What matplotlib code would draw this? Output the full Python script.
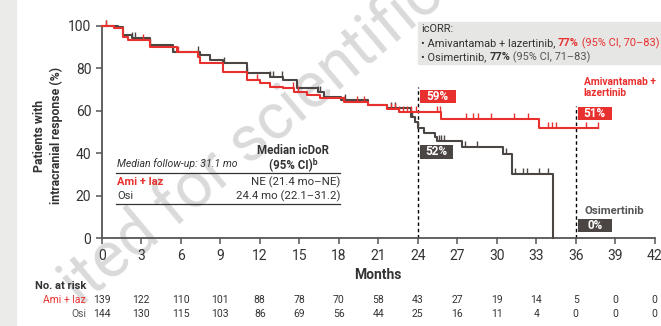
import numpy as np
import matplotlib
matplotlib.use("Agg")
import matplotlib.pyplot as plt
import matplotlib.transforms as mtransforms
from matplotlib.path import Path
from matplotlib.patches import Rectangle

plt.rcParams['font.family'] = ['Roboto', 'DejaVu Sans']

# Kaplan-Meier steps (months, % still responding)
ami_t = [0, 0.9, 1.6, 2.0, 3.7, 5.7, 7.3, 7.5, 9.2, 11.0, 12.0, 12.8, 13.8, 14.6,
         15.6, 16.6, 18.4, 20.2, 21.7, 22.6, 25.8, 33.2, 37.7]
ami_s = [100, 98.8, 94.8, 93.3, 90.1, 87.8, 85.4, 82.3, 78.4, 74.5, 72.9, 71.3, 70.6, 69.0,
         67.4, 65.9, 64.3, 62.7, 60.9, 59.6, 56.2, 52.0, 52.0]
ami_cens = [0.3, 3.1, 5.8, 11.8, 14.5, 14.9, 18.4, 19.4, 19.9, 22.0, 22.3, 22.6, 22.9,
            23.2, 23.5, 23.9, 25.5, 25.7, 27.7, 28.2, 28.6, 29.6, 31.3, 32.4, 33.9,
            34.2, 34.5, 36.8, 37.7]

osi_t = [0, 1.26, 1.6, 2.3, 3.7, 5.4, 7.5, 8.2, 9.2, 11.0, 12.8, 13.8, 14.8, 16.4,
         16.9, 18.2, 20.2, 21.7, 23.5, 23.8, 24.0, 24.5, 25.3, 25.5, 27.4, 30.5,
         31.2, 34.3]
osi_s = [100, 99.5, 95.6, 94.1, 90.9, 87.8, 86.2, 83.9, 82.3, 77.6, 76.0, 74.5, 70.6, 69.0,
         66.6, 65.1, 62.7, 61.1, 57.2, 54.8, 51.7, 49.4, 47.8, 46.0, 43.1, 39.8,
         30.4, 0]
osi_cens = [0.3, 2.3, 2.5, 3.7, 5.4, 7.3, 9.3, 11.0, 12.8, 13.0, 13.7, 16.4, 16.6,
            18.5, 22.0, 22.3, 23.6, 25.6, 25.8, 26.0, 27.6, 28.5, 30.7, 31.4, 32.0,
            32.3, 33.2, 33.9]

risk_months = [0, 3, 6, 9, 12, 15, 18, 21, 24, 27, 30, 33, 36, 39, 42]
ami_risk = [139, 122, 110, 101, 88, 78, 70, 58, 43, 27, 19, 14, 5, 0, 0]
osi_risk = [144, 130, 115, 103, 86, 69, 56, 44, 25, 16, 11, 4, 0, 0, 0]

landmarks = [24, 36]
ami_landmark = ['59%', '51%']
osi_landmark = ['52%', '0%']

RED = '#e8312f'
DARK = '#4b4643'
TXT = '#333333'

W, H = 661, 326


def px(x, y):
    return x / W, 1 - y / H


def step_value(t, s, x):
    i = np.searchsorted(t, x, side='right') - 1
    return np.asarray(s)[np.clip(i, 0, len(s) - 1)]


fig = plt.figure(figsize=(W / 100, H / 100), dpi=100)
fig.patches.append(Rectangle((0, 0), 16 / W, 1, transform=fig.transFigure,
                             color='#ebebe9', zorder=-2))
fig.text(*px(252, 140), 'ited for scientific', rotation=40, fontsize=46,
         color='#dadada', ha='center', va='center', zorder=-1)

ax = fig.add_axes([101.7 / W, 87.7 / H, 553 / W, 212.6 / H])
ax.patch.set_alpha(0)
ax.set_xlim(0, 42)
ax.set_ylim(0, 100)
ax.set_xticks(risk_months)
ax.set_yticks([0, 20, 40, 60, 80, 100])
for side in ['top', 'right']:
    ax.spines[side].set_visible(False)
for side in ['left', 'bottom']:
    ax.spines[side].set_color('#555555')
    ax.spines[side].set_linewidth(1.3)
ax.tick_params(colors='#555555', labelcolor=TXT, labelsize=10, length=4, width=1.1)

cens_marker = Path([(0, 0), (0, 1)])
for t, s, cens, col in [(osi_t, osi_s, osi_cens, DARK), (ami_t, ami_s, ami_cens, RED)]:
    ax.step(t, s, where='post', color=col, lw=1.5, clip_on=False, zorder=3)
    ax.plot(cens, step_value(t, s, cens), ls='none', marker=cens_marker, ms=9,
            mew=1.0, color=col, clip_on=False, zorder=3)

ax.vlines(landmarks[0], 0, 71, colors='black', linestyles=(0, (2.5, 2)), lw=1.0, zorder=2)
ax.vlines(landmarks[1], 0, 62, colors='black', linestyles=(0, (2.5, 2)), lw=1.0, zorder=2)


def tag(x0, x1, y0, y1, label, fc):
    ax.add_patch(Rectangle((x0, y0), x1 - x0, y1 - y0, fc=fc, ec='none',
                           zorder=4, clip_on=False))
    ax.text((x0 + x1) / 2, (y0 + y1) / 2, label, color='white', fontsize=8.5,
            fontweight='bold', ha='center', va='center', zorder=5)


tag(24.17, 26.9, 63.6, 69.8, ami_landmark[0], RED)
tag(24.17, 26.7, 37.3, 43.9, osi_landmark[0], DARK)
tag(36.17, 38.75, 55.6, 61.8, ami_landmark[1], RED)
tag(36.17, 38.75, 3.0, 9.1, osi_landmark[1], DARK)
ax.text(36.6, 71, 'Amivantamab +\nlazertinib', color=RED, fontsize=7.4,
        fontweight='bold', ha='left', va='center', linespacing=1.15)
ax.text(36.65, 13, 'Osimertinib', color='#555555', fontsize=8.2,
        fontweight='bold', ha='left', va='center')

ax.set_xlabel('Months', fontsize=10, fontweight='bold', color=TXT, labelpad=4)
fig.text(*px(48, 136), 'Patients with\nintracranial response (%)', rotation=90,
         ha='center', va='center', fontsize=8.8, fontweight='bold', color=TXT,
         linespacing=1.35)

# icORR box
fig.patches.append(Rectangle(px(418, 64), (W - 418) / W, 42 / H,
                             transform=fig.transFigure, color='#e6e6e4', zorder=1))
fig.canvas.draw()
renderer = fig.canvas.get_renderer()


def pieces(x, y, parts, size=7.9):
    xf, yf = px(x, y)
    for s, col, wt in parts:
        t = fig.text(xf, yf, s, color=col, fontweight=wt, fontsize=size,
                     ha='left', va='center', zorder=2)
        bb = t.get_window_extent(renderer)
        xf += bb.width / fig.bbox.width


pieces(421, 29, [('icORR:', TXT, 'normal')])
pieces(421, 43, [('• Amivantamab + lazertinib, ', TXT, 'normal'),
                 ('77%', RED, 'bold'), (' (95% CI, 70–83)', RED, 'normal')])
pieces(421, 57, [('• Osimertinib, ', TXT, 'normal'), ('77%', TXT, 'bold'),
                 (' (95% CI, 71–83)', '#555555', 'normal')])

# median duration table
fig.text(*px(117, 164), 'Median follow-up: 31.1 mo', fontsize=7.6, style='italic',
         color=TXT, ha='left', va='center')
fig.text(*px(293, 151), 'Median icDoR', fontsize=8.3, fontweight='bold', color=TXT,
         ha='center', va='center')
fig.text(*px(293, 164), '(95% CI)ᵇ', fontsize=8.3, fontweight='bold', color=TXT,
         ha='center', va='center')
for yy in [172.5, 204]:
    fig.add_artist(plt.Line2D([116 / W, 340 / W], [1 - yy / H] * 2, color=TXT, lw=0.9))
fig.text(*px(117, 182), 'Ami + laz', fontsize=8, fontweight='bold', color=RED,
         ha='left', va='center')
fig.text(*px(340, 182), 'NE (21.4 mo–NE)', fontsize=8.2, color=TXT, ha='right', va='center')
fig.text(*px(117, 196), 'Osi', fontsize=8, color=TXT, ha='left', va='center')
fig.text(*px(340, 196), '24.4 mo (22.1–31.2)', fontsize=8.2, color=TXT, ha='right', va='center')

# number at risk
trans = mtransforms.blended_transform_factory(ax.transData, fig.transFigure)
fig.text(*px(35, 286), 'No. at risk', fontsize=8, fontweight='bold', color=TXT,
         ha='left', va='center')
ax.text(-1.2, 1 - 300 / H, 'Ami + laz', transform=trans, color=RED, fontsize=7.5,
        ha='right', va='center')
ax.text(-1.2, 1 - 314 / H, 'Osi', transform=trans, color='#555555', fontsize=7.5,
        ha='right', va='center')
for m, a, o in zip(risk_months, ami_risk, osi_risk):
    ax.text(m, 1 - 300 / H, str(a), transform=trans, fontsize=7.5, color=TXT,
            ha='center', va='center')
    ax.text(m, 1 - 314 / H, str(o), transform=trans, fontsize=7.5, color=TXT,
            ha='center', va='center')

fig.savefig('out.png', dpi=100)
